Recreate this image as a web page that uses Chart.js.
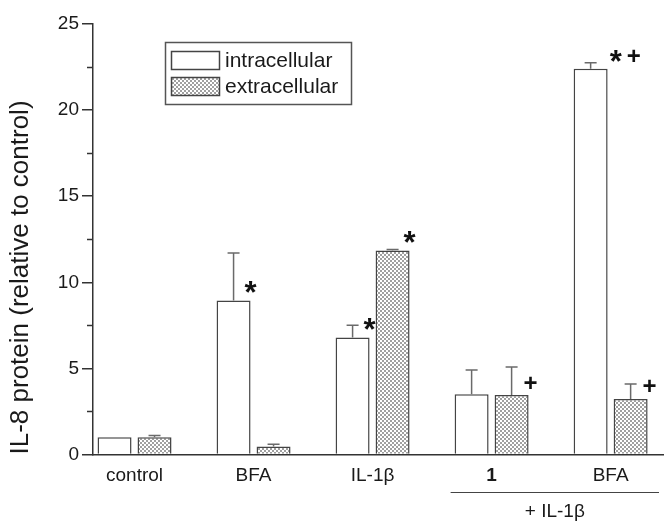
<!DOCTYPE html>
<html>
<head>
<meta charset="utf-8">
<script src="https://cdn.jsdelivr.net/npm/chart.js@4.4.1/dist/chart.umd.min.js"></script>
<style>
  html, body { margin: 0; padding: 0; background: #fff; }
  #wrap { width: 665px; height: 522px; }
</style>
</head>
<body>
<div id="wrap"><canvas id="il8Chart" width="665" height="522"></canvas></div>
<script>
// data
const categories = ['control', 'BFA', 'IL-1\u03B2', '1', 'BFA'];
const intracellular = [1.0, 8.95, 6.8, 3.5, 22.4];
const intracellularErr = [0, 2.75, 0.7, 1.4, 0.35];
const extracellular = [1.0, 0.47, 11.85, 3.45, 3.23];
const extracellularErr = [0.1, 0.12, 0.05, 1.63, 0.87];
const intraMarks = ['', '*', '*', '', '*+'];
const extraMarks = ['', '', '*', '+', '+'];
const yTicks = [0, 5, 10, 15, 20, 25];
const groupLabel = '+ IL-1\u03B2';
const groupStart = 3; // index of first category under "+ IL-1β"

const FONT = "'Liberation Sans', Arial, sans-serif";
const AXIS_COLOR = '#333';

// crosshatch fill for the extracellular bars
function makeHatch() {
  const c = document.createElement('canvas');
  c.width = 4; c.height = 4;
  const g = c.getContext('2d');
  g.fillStyle = '#a0a0a0';
  g.fillRect(0, 0, 4, 4);
  g.fillStyle = '#ffffff';
  g.fillRect(0, 0, 2, 2);
  g.fillRect(2, 2, 2, 2);
  return g.createPattern(c, 'repeat');
}
const ctx = document.getElementById('il8Chart').getContext('2d');
const hatch = makeHatch();

const toPoints = arr => arr.map((v, i) => ({ x: i + 1, y: v }));

// error bars (upper only) + significance marks
const errorBarPlugin = {
  id: 'errorBars',
  afterDatasetsDraw(chart) {
    const c = chart.ctx;
    const y = chart.scales.y;
    const errs = [intracellularErr, extracellularErr];
    const marks = [intraMarks, extraMarks];
    chart.data.datasets.forEach((ds, di) => {
      const meta = chart.getDatasetMeta(di);
      meta.data.forEach((bar, i) => {
        const v = ds.data[i].y;
        const e = errs[di][i];
        c.save();
        if (e > 0) {
          const top = y.getPixelForValue(v + e);
          c.strokeStyle = '#6a6a6a';
          c.lineWidth = 1.5;
          c.beginPath();
          c.moveTo(bar.x, bar.y);
          c.lineTo(bar.x, top);
          c.moveTo(bar.x - 6, top);
          c.lineTo(bar.x + 6, top);
          c.stroke();
        }
        const m = marks[di][i];
        if (m) {
          const right = bar.x + bar.width / 2;
          let x = m.length > 1 ? right + 2 : right - 6;
          const cy = bar.y - 13;
          c.fillStyle = '#111';
          c.textAlign = 'left';
          c.textBaseline = 'alphabetic';
          for (const ch of m) {
            c.font = ch === '*' ? 'bold 31px ' + FONT : 'bold 24px ' + FONT;
            const mt = c.measureText(ch);
            const by = cy + (mt.actualBoundingBoxAscent - mt.actualBoundingBoxDescent) / 2;
            c.fillText(ch, x - mt.actualBoundingBoxLeft, by);
            x += mt.actualBoundingBoxLeft + mt.actualBoundingBoxRight + 3;
          }
        }
        c.restore();
      });
    });
  }
};

// minor y ticks, "+ IL-1β" bracket and the boxed legend
const decorPlugin = {
  id: 'decor',
  afterDraw(chart) {
    const c = chart.ctx;
    const ys = chart.scales.y;
    const area = chart.chartArea;
    c.save();
    // minor ticks
    c.strokeStyle = AXIS_COLOR;
    c.lineWidth = 1.5;
    for (let i = 0; i < yTicks.length - 1; i++) {
      const py = Math.round(ys.getPixelForValue((yTicks[i] + yTicks[i + 1]) / 2)) + 0.5;
      c.beginPath();
      c.moveTo(area.left - 6, py);
      c.lineTo(area.left, py);
      c.stroke();
    }
    // bracket under the last two groups
    const meta0 = chart.getDatasetMeta(0);
    const first = meta0.data[groupStart];
    const x0 = first.x - first.width / 2 - 4;
    const x1 = area.right - 4;
    const ly = 492.5;
    c.strokeStyle = '#444';
    c.lineWidth = 1.2;
    c.beginPath();
    c.moveTo(x0, ly);
    c.lineTo(x1, ly);
    c.stroke();
    c.fillStyle = '#1a1a1a';
    c.font = '19px ' + FONT;
    c.textAlign = 'center';
    c.textBaseline = 'middle';
    c.fillText(groupLabel, (x0 + x1) / 2, 512);

    // legend
    const lx = 165.5, lyTop = 42.5, lw = 186, lh = 62;
    c.strokeStyle = '#555';
    c.lineWidth = 1.5;
    c.strokeRect(lx, lyTop, lw, lh);
    chart.data.datasets.forEach((ds, di) => {
      const sy = 51.5 + di * 26;
      c.fillStyle = ds.backgroundColor;
      c.fillRect(171.5, sy, 48, 18);
      c.strokeStyle = '#444';
      c.lineWidth = 1.5;
      c.strokeRect(171.5, sy, 48, 18);
      c.fillStyle = '#1a1a1a';
      c.font = '21px ' + FONT;
      c.textAlign = 'left';
      c.textBaseline = 'middle';
      c.fillText(ds.label, 225, sy + 9.5);
    });
    c.restore();
  }
};

const chart = new Chart(ctx, {
  type: 'bar',
  data: {
    datasets: [
      {
        label: 'intracellular',
        data: toPoints(intracellular),
        backgroundColor: '#ffffff',
        borderColor: '#444',
        borderWidth: 1.5,
        categoryPercentage: 0.672,
        barPercentage: 0.85
      },
      {
        label: 'extracellular',
        data: toPoints(extracellular),
        backgroundColor: hatch,
        borderColor: '#444',
        borderWidth: 1.5,
        categoryPercentage: 0.672,
        barPercentage: 0.85
      }
    ]
  },
  options: {
    responsive: false,
    maintainAspectRatio: false,
    animation: false,
    layout: { padding: { top: 24, right: 2, left: 0, bottom: 0 } },
    scales: {
      x: {
        type: 'linear',
        offset: false,
        min: 0.651,
        max: 5.44,
        afterFit: s => { s.height = 67.5; },
        border: { display: true, color: AXIS_COLOR, width: 1.5 },
        grid: { display: false, drawTicks: false, offset: false },
        ticks: {
          stepSize: 1,
          includeBounds: false,
          autoSkip: false,
          maxRotation: 0,
          padding: 10,
          color: '#1a1a1a',
          font: ctx2 => ({
            family: FONT,
            size: 19,
            weight: ctx2.index === groupStart ? 'bold' : 'normal'
          }),
          callback: v => categories[v - 1] !== undefined ? categories[v - 1] : ''
        }
      },
      y: {
        min: 0,
        max: 25,
        afterFit: s => { s.width = 93; },
        border: { display: true, color: AXIS_COLOR, width: 1.5 },
        grid: {
          drawOnChartArea: false,
          drawTicks: true,
          tickLength: 11,
          color: AXIS_COLOR,
          lineWidth: 1.5
        },
        afterBuildTicks: s => { s.ticks = yTicks.map(v => ({ value: v })); },
        ticks: {
          padding: 3,
          color: '#1a1a1a',
          font: { family: FONT, size: 19 }
        },
        title: {
          display: true,
          text: 'IL-8 protein (relative to control)',
          align: 'start',
          color: '#1a1a1a',
          font: { family: FONT, size: 26 },
          padding: { top: 5, bottom: 4 }
        }
      }
    },
    plugins: {
      legend: { display: false },
      tooltip: { enabled: false }
    }
  },
  plugins: [errorBarPlugin, decorPlugin]
});
</script>
</body>
</html>
